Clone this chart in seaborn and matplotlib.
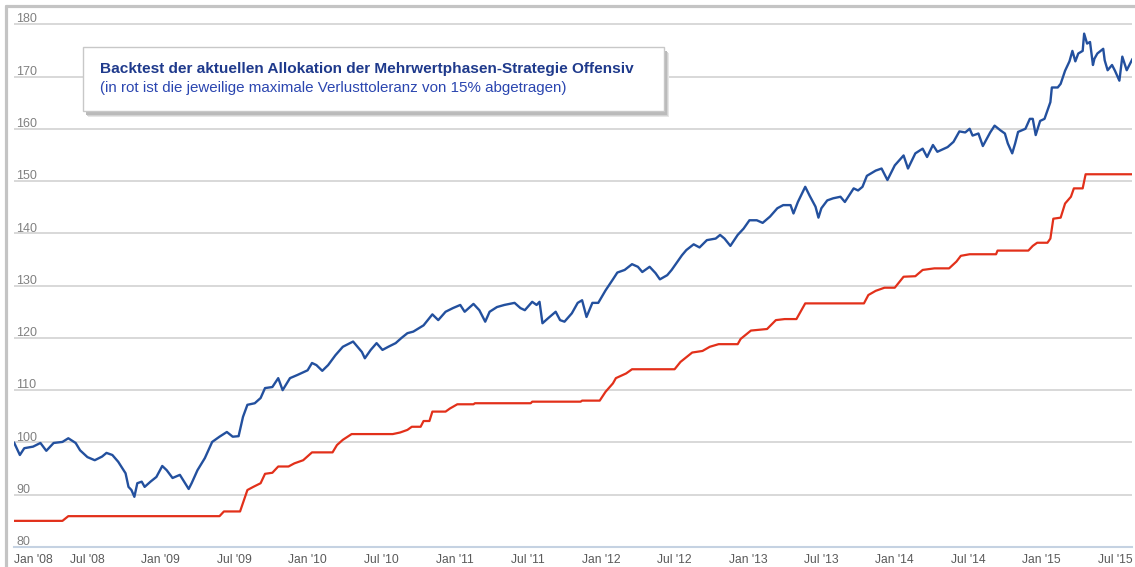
import numpy as np
import pandas as pd
import matplotlib
matplotlib.use("Agg")
import matplotlib.pyplot as plt
import seaborn as sns
from matplotlib.patches import Rectangle
from matplotlib.lines import Line2D

# Backtest index (blue), x in decimal years
bt_year = [
    2008.00, 2008.04, 2008.07, 2008.13, 2008.18, 2008.22, 2008.27, 2008.33, 2008.37, 2008.42, 2008.45, 2008.50, 2008.55,
    2008.60, 2008.63, 2008.67, 2008.71, 2008.76, 2008.78, 2008.80, 2008.82, 2008.84, 2008.87, 2008.89, 2008.93, 2008.97,
    2009.01, 2009.04, 2009.08, 2009.13, 2009.19, 2009.21, 2009.25, 2009.30, 2009.35, 2009.40, 2009.45, 2009.49,
    2009.53, 2009.56, 2009.59, 2009.64, 2009.68, 2009.71, 2009.76, 2009.80, 2009.83, 2009.88, 2009.93,
    2010.00, 2010.03, 2010.06, 2010.10, 2010.14, 2010.19, 2010.24, 2010.31, 2010.34, 2010.37, 2010.39, 2010.43,
    2010.47, 2010.51, 2010.55, 2010.60, 2010.64, 2010.68, 2010.72, 2010.79, 2010.85, 2010.89, 2010.94, 2010.99,
    2011.04, 2011.07, 2011.13, 2011.17, 2011.21, 2011.24, 2011.29, 2011.34, 2011.41, 2011.45, 2011.48, 2011.53, 2011.56,
    2011.58, 2011.60, 2011.64, 2011.69, 2011.72, 2011.75, 2011.80, 2011.84, 2011.87, 2011.90, 2011.94, 2011.98,
    2012.03, 2012.08, 2012.11, 2012.16, 2012.21, 2012.25, 2012.28, 2012.33, 2012.37, 2012.40, 2012.45, 2012.48,
    2012.52, 2012.55, 2012.58, 2012.63, 2012.67, 2012.72, 2012.78, 2012.81, 2012.84, 2012.88, 2012.93, 2012.97,
    2013.01, 2013.06, 2013.10, 2013.15, 2013.20, 2013.24, 2013.29, 2013.31, 2013.34, 2013.39, 2013.42, 2013.46, 2013.48,
    2013.50, 2013.54, 2013.58, 2013.63, 2013.66, 2013.72, 2013.75, 2013.78, 2013.81, 2013.87, 2013.91, 2013.95,
    2014.00, 2014.06, 2014.09, 2014.14, 2014.19, 2014.22, 2014.26, 2014.29, 2014.36, 2014.40, 2014.44, 2014.48, 2014.51,
    2014.53, 2014.57, 2014.60, 2014.65, 2014.68, 2014.72, 2014.75, 2014.77, 2014.80, 2014.82, 2014.84, 2014.89, 2014.92,
    2014.94, 2014.96, 2014.99,
    2015.02, 2015.04, 2015.06, 2015.07, 2015.11, 2015.13, 2015.16, 2015.19, 2015.21, 2015.23, 2015.25, 2015.28, 2015.29,
    2015.31, 2015.33, 2015.35, 2015.36, 2015.38, 2015.42, 2015.43, 2015.45, 2015.48, 2015.50, 2015.53, 2015.55, 2015.58,
    2015.62,
]
bt_value = [
    100.0, 97.6, 98.9, 99.2, 99.9, 98.4, 99.9, 100.1, 100.8, 99.9, 98.5, 97.2, 96.6,
    97.3, 98.0, 97.6, 96.3, 94.1, 91.5, 90.9, 89.6, 92.2, 92.5, 91.5, 92.5, 93.4,
    95.5, 94.7, 93.2, 93.8, 91.1, 92.2, 94.7, 97.0, 100.1, 101.1, 102.0, 101.1,
    101.2, 104.9, 107.2, 107.5, 108.5, 110.4, 110.6, 112.3, 110.0, 112.3, 112.9,
    113.8, 115.2, 114.8, 113.7, 114.8, 116.7, 118.3, 119.3, 118.3, 117.3, 116.1, 117.7,
    119.0, 117.7, 118.3, 119.0, 120.0, 120.9, 121.2, 122.4, 124.5, 123.4, 125.0, 125.7,
    126.3, 125.0, 126.5, 125.3, 123.1, 125.0, 125.9, 126.3, 126.7, 125.7, 125.3, 126.9, 126.3,
    126.9, 122.8, 123.8, 125.0, 123.4, 123.1, 124.7, 126.7, 127.2, 124.0, 126.7, 126.7,
    129.1, 131.2, 132.5, 133.0, 134.1, 133.6, 132.6, 133.6, 132.4, 131.2, 132.0, 133.0,
    134.6, 135.8, 136.8, 137.9, 137.3, 138.7, 139.0, 139.7, 139.0, 137.6, 139.7, 140.9,
    142.5, 142.5, 142.0, 143.2, 144.8, 145.4, 145.4, 143.8, 146.0, 148.9, 147.2, 145.1, 143.0,
    144.8, 146.3, 146.7, 147.0, 146.0, 148.6, 148.2, 148.9, 151.0, 152.0, 152.4, 150.2,
    153.0, 154.9, 152.4, 155.3, 156.2, 154.6, 156.9, 155.6, 156.5, 157.5, 159.5, 159.3, 160.0,
    158.7, 159.1, 156.7, 159.3, 160.6, 159.7, 159.1, 157.2, 155.3, 157.2, 159.4, 160.0, 161.9,
    161.9, 158.8, 161.5,
    161.9, 163.5, 165.1, 167.9, 167.9, 168.6, 171.1, 172.9, 174.9, 172.9, 174.4, 174.9, 178.2,
    176.3, 176.6, 172.2, 173.4, 174.4, 175.3, 173.1, 171.2, 172.2, 171.1, 169.2, 173.8, 171.2,
    173.4,
]

# Maximum loss tolerance 15% (red)
tol_year = [
    2008.00, 2008.33, 2008.37, 2009.40, 2009.43, 2009.54, 2009.59, 2009.63, 2009.68, 2009.71, 2009.76, 2009.80,
    2009.87, 2009.91, 2009.97, 2010.03, 2010.17, 2010.20, 2010.24, 2010.30, 2010.58, 2010.63, 2010.68, 2010.71,
    2010.77, 2010.79, 2010.83, 2010.85, 2010.94, 2010.97, 2011.02, 2011.13, 2011.14, 2011.52, 2011.53, 2011.86,
    2011.87, 2011.99, 2012.03, 2012.08,
    2012.10, 2012.17, 2012.21, 2012.50, 2012.54, 2012.62, 2012.69, 2012.74, 2012.80, 2012.93, 2012.95, 2013.02,
    2013.13, 2013.19, 2013.25, 2013.33, 2013.39, 2013.79, 2013.82, 2013.87, 2013.93, 2014.00, 2014.06, 2014.14,
    2014.19, 2014.27, 2014.37, 2014.42, 2014.45, 2014.51, 2014.69, 2014.70, 2014.91, 2014.94, 2014.97, 2015.04,
    2015.06, 2015.08, 2015.13, 2015.16, 2015.20, 2015.22, 2015.28, 2015.30, 2015.62,
]
tol_value = [
    85.0, 85.0, 85.9, 85.9, 86.8, 86.8, 90.9, 91.5, 92.2, 94.0, 94.2, 95.4,
    95.4, 96.0, 96.6, 98.1, 98.1, 99.5, 100.5, 101.6, 101.6, 101.9, 102.4, 103.0,
    103.0, 104.1, 104.1, 105.9, 105.9, 106.5, 107.3, 107.3, 107.5, 107.5, 107.8, 107.8,
    108.0, 108.0, 109.7, 111.3,
    112.3, 113.2, 114.0, 114.0, 115.4, 117.2, 117.5, 118.3, 118.8, 118.8, 119.8, 121.4,
    121.7, 123.4, 123.6, 123.6, 126.6, 126.6, 128.2, 129.0, 129.6, 129.6, 131.7, 131.8,
    133.0, 133.3, 133.3, 134.6, 135.7, 136.0, 136.0, 136.7, 136.7, 137.6, 138.2, 138.2,
    139.0, 142.8, 143.0, 145.7, 147.0, 148.6, 148.6, 151.3, 151.3,
]

y_ticks = [80, 90, 100, 110, 120, 130, 140, 150, 160, 170, 180]
x_ticks = [2008.0, 2008.5, 2009.0, 2009.5, 2010.0, 2010.5, 2011.0, 2011.5,
           2012.0, 2012.5, 2013.0, 2013.5, 2014.0, 2014.5, 2015.0, 2015.5]
x_labels = ["Jan '08", "Jul '08", "Jan '09", "Jul '09", "Jan '10", "Jul '10", "Jan '11", "Jul '11",
            "Jan '12", "Jul '12", "Jan '13", "Jul '13", "Jan '14", "Jul '14", "Jan '15", "Jul '15"]

title = "Backtest der aktuellen Allokation der Mehrwertphasen-Strategie Offensiv"
subtitle = "(in rot ist die jeweilige maximale Verlusttoleranz von 15% abgetragen)"

bt = pd.DataFrame({"year": bt_year, "value": bt_value})
tol = pd.DataFrame({"year": tol_year, "value": tol_value})

sns.set_style("white")
plt.rcParams["font.family"] = ["Liberation Sans", "DejaVu Sans"]

W, H = 1135, 567
fig = plt.figure(figsize=(W / 100, H / 100), dpi=100)
# axes placed in pixel terms: left 14, right 1132, y=80 at 547, y=181 at 19
ax = fig.add_axes([14 / W, 1 - 547 / H, (1132 - 14) / W, (547 - 19) / H])

sns.lineplot(data=tol, x="year", y="value", color="#e2301a", lw=1.6, ax=ax,
             estimator=None, sort=False, zorder=3)
sns.lineplot(data=bt, x="year", y="value", color="#23509e", lw=1.7, ax=ax,
             estimator=None, sort=False, zorder=4)

ax.set_xlim(2008.0, 2015.616)
ax.set_ylim(80, 181)
ax.set_xlabel("")
ax.set_ylabel("")

ax.set_yticks(y_ticks)
ax.yaxis.grid(True, color="#d6d6d6", lw=1.3)
ax.tick_params(axis="y", left=False, labelleft=False)
for v in y_ticks:
    ax.text(0.002, v + 0.35, str(v), transform=ax.get_yaxis_transform(),
            ha="left", va="baseline", fontsize=9, color="#808080", zorder=5)

ax.set_xticks(x_ticks)
ax.set_xticklabels(x_labels)
ax.tick_params(axis="x", length=5, width=1.2, color="#c5d2e2", labelsize=8.7,
               labelcolor="#5a5a5a", pad=0)
ax.get_xticklabels()[0].set_ha("left")

for s in ["left", "right", "top"]:
    ax.spines[s].set_visible(False)
ax.spines["bottom"].set_color("#c5d2e2")
ax.spines["bottom"].set_linewidth(1.5)
ax.set_axisbelow(True)

# outer frame (left and top edges visible)
fig.add_artist(Line2D([5.5 / W, 5.5 / W], [0, 1 - 5.5 / H], transform=fig.transFigure,
                      color="#c4c4c4", lw=2.3))
fig.add_artist(Line2D([5.5 / W, 1], [1 - 5.5 / H, 1 - 5.5 / H], transform=fig.transFigure,
                      color="#c4c4c4", lw=2.3))

# title box with shadow
x0, y0, x1, y1 = 83, 47, 664, 111
for off, col in [(6, "#e6e6e6"), (5, "#d2d2d2"), (4, "#bababa")]:
    fig.add_artist(Rectangle(((x0 + off - 1) / W, 1 - (y1 + off) / H), (x1 - x0) / W, (y1 - y0) / H,
                             transform=fig.transFigure, facecolor=col, edgecolor="none", zorder=10))
fig.add_artist(Rectangle((x0 / W, 1 - y1 / H), (x1 - x0) / W, (y1 - y0) / H,
                         transform=fig.transFigure, facecolor="white", edgecolor="#c8c8c8",
                         lw=1.0, zorder=11))
fig.text(100 / W, 1 - 69 / H, title, ha="left", va="center", fontsize=11.1,
         fontweight="bold", color="#1f3a8c", zorder=12)
fig.text(100 / W, 1 - 88 / H, subtitle, ha="left", va="center", fontsize=10.9,
         color="#2b46b0", zorder=12)

fig.savefig("out.png", dpi=100)
